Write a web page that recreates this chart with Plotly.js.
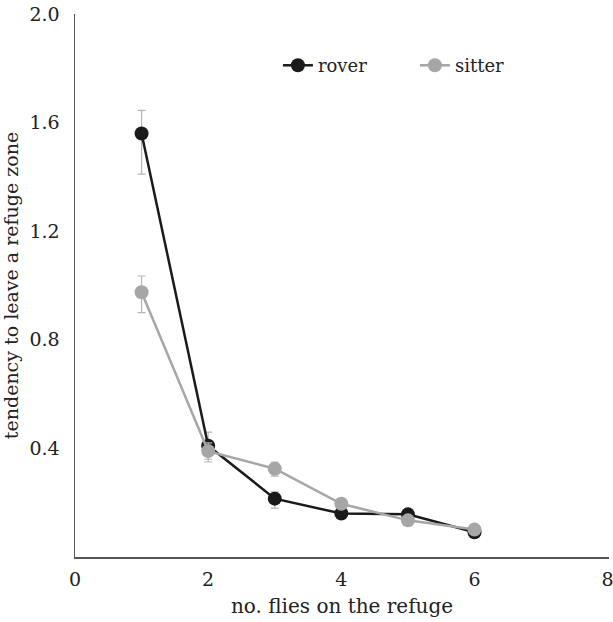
<!DOCTYPE html>
<html>
<head>
<meta charset="utf-8">
<script src="https://cdn.plot.ly/plotly-3.0.1.min.js"></script>
<style>html,body{margin:0;padding:0;background:#fff;}#chart{width:613px;height:622px;}</style>
</head>
<body>
<div id="chart"></div>
<script>
const flies = [1, 2, 3, 4, 5, 6];
const roverMean = [1.56, 0.41, 0.215, 0.16, 0.157, 0.091];
const roverErrPlus = [0.085, 0.05, 0.025, 0.01, 0.01, 0.01];
const roverErrMinus = [0.15, 0.05, 0.035, 0.01, 0.01, 0.01];
const sitterMean = [0.975, 0.39, 0.325, 0.196, 0.135, 0.101];
const sitterErrPlus = [0.06, 0.03, 0.025, 0.01, 0.01, 0.01];
const sitterErrMinus = [0.075, 0.04, 0.027, 0.01, 0.01, 0.01];
const xTicks = [0, 2, 4, 6, 8];
const yTicks = [0.4, 0.8, 1.2, 1.6, 2.0];
const yTickText = ['0.4', '0.8', '1.2', '1.6', '2.0'];

const serif = 'DejaVu Serif';
const font = {family: serif, size: 19, color: '#222'};

const traces = [
  {
    x: flies, y: roverMean, name: 'rover', mode: 'lines+markers', type: 'scatter',
    line: {color: '#1a1a1a', width: 2.5},
    marker: {color: '#1a1a1a', size: 14},
    error_y: {type: 'data', symmetric: false, array: roverErrPlus, arrayminus: roverErrMinus, color: '#b5b5b5', thickness: 1.2, width: 4}
  },
  {
    x: flies, y: sitterMean, name: 'sitter', mode: 'lines+markers', type: 'scatter',
    line: {color: '#a6a6a6', width: 2.5},
    marker: {color: '#a6a6a6', size: 14},
    error_y: {type: 'data', symmetric: false, array: sitterErrPlus, arrayminus: sitterErrMinus, color: '#b5b5b5', thickness: 1.2, width: 4}
  }
];

const layout = {
  width: 613, height: 622,
  margin: {l: 75, r: 4, t: 14, b: 65},
  paper_bgcolor: '#fff', plot_bgcolor: '#fff',
  font: font,
  showlegend: true,
  legend: {orientation: 'h', x: 0.38, y: 0.905, xanchor: 'left', yanchor: 'middle',
           font: {family: serif, size: 18, color: '#222'}, bgcolor: 'rgba(0,0,0,0)',
           entrywidth: 92, entrywidthmode: 'pixels'},
  xaxis: {
    range: [0, 8.02], tickvals: xTicks, ticktext: xTicks.map(String),
    showgrid: false, zeroline: false, showline: true, linecolor: '#555', linewidth: 1.5,
    ticks: '', ticklabelstandoff: 5, ticklabeloverflow: 'allow',
    tickfont: font,
    title: {text: 'no. flies on the refuge', font: {family: serif, size: 20, color: '#222'}, standoff: 9}
  },
  yaxis: {
    range: [0, 2.0], tickvals: yTicks, ticktext: yTickText,
    showgrid: false, zeroline: false, showline: true, linecolor: '#555', linewidth: 1.5,
    ticks: '', ticklabelstandoff: 10,
    tickfont: font,
    title: {text: 'tendency to leave a refuge zone', font: font, standoff: 6}
  }
};

Plotly.newPlot('chart', traces, layout, {displayModeBar: false, staticPlot: true});
</script>
</body>
</html>
